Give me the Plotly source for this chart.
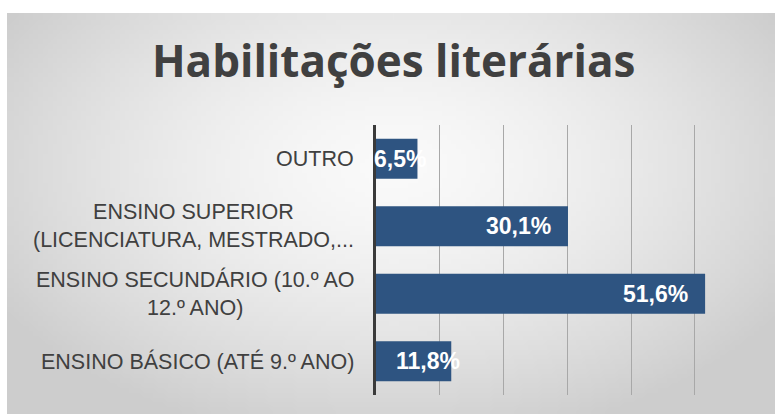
"""Horizontal bar chart: Habilitações literárias (share of respondents)."""

import base64
import struct
import zlib

import numpy as np
import plotly.graph_objects as go

CATEGORIES = [
    "ENSINO BÁSICO (ATÉ 9.º ANO)",
    "ENSINO SECUNDÁRIO (10.º AO 12.º ANO)",
    "ENSINO SUPERIOR (LICENCIATURA, MESTRADO, DOUTORAMENTO)",
    "OUTRO",
]
TICK_LABELS = [
    "ENSINO BÁSICO (ATÉ 9.º ANO)",
    "ENSINO SECUNDÁRIO (10.º AO<br>12.º ANO)",
    "ENSINO SUPERIOR<br>(LICENCIATURA, MESTRADO,...",
    "OUTRO",
]
PERCENT = [11.8, 51.6, 30.1, 6.5]
X_TICKS = [0, 10, 20, 30, 40, 50, 60]

TITLE = "Habilitações literárias"

C_BAR = "#2E5481"
C_TEXT = "#404040"
C_GRID = "#a8a8a8"

W, H = 775, 414
M_L, M_R, M_T, M_B = 376, 16, 125, 19


def _gradient_png(w=160, h=84):
    """Soft radial grey gradient, like the slide background."""
    yy, xx = np.mgrid[0:h, 0:w]
    d = np.sqrt(((xx - w * 0.5) / (w * 0.6)) ** 2 + ((yy - h * 0.38) / (h * 0.7)) ** 2)
    v = 250 - 45 * np.clip(d, 0, 1.0) ** 1.5
    v = np.clip(v, 0, 255).astype(np.uint8)
    rgb = np.repeat(v[:, :, None], 3, axis=2)
    raw = b"".join(b"\x00" + rgb[r].tobytes() for r in range(h))

    def chunk(tag, data):
        c = struct.pack(">I", len(data)) + tag + data
        return c + struct.pack(">I", zlib.crc32(tag + data) & 0xFFFFFFFF)

    png = b"\x89PNG\r\n\x1a\n"
    png += chunk(b"IHDR", struct.pack(">IIBBBBB", w, h, 8, 2, 0, 0, 0))
    png += chunk(b"IDAT", zlib.compress(raw, 9))
    png += chunk(b"IEND", b"")
    return "data:image/png;base64," + base64.b64encode(png).decode()


def _fmt(v):
    return f"{v:.1f}%".replace(".", ",")


fig = go.Figure(
    go.Bar(
        x=PERCENT,
        y=CATEGORIES,
        orientation="h",
        marker=dict(color=C_BAR, line=dict(width=0)),
        hoverinfo="skip",
    )
)

# category labels, centred lines like the original Excel chart
for cat, lab in zip(CATEGORIES, TICK_LABELS):
    fig.add_annotation(
        x=0, xref="paper", y=cat, yref="y",
        text=lab, showarrow=False, xanchor="right", align="center",
        xshift=-20,
        font=dict(family="Liberation Sans, Arial, sans-serif", size=21.5, color=C_TEXT),
    )

# value labels near the inside end of each bar
for cat, v in zip(CATEGORIES, PERCENT):
    fig.add_annotation(
        x=v, y=cat, text=f"<b>{_fmt(v)}</b>", showarrow=False,
        xanchor="right", xshift=-15 if v > 20 else 11,
        font=dict(family="Liberation Sans, Arial, sans-serif", size=23, color="white"),
    )

pw = W - M_L - M_R
ph = H - M_T - M_B
left_px, top_px = 7, 13
fig.add_layout_image(
    source=_gradient_png(),
    xref="paper", yref="paper",
    x=(left_px - M_L) / pw, y=(H - M_B - top_px) / ph,
    sizex=(W - left_px) / pw, sizey=(H - top_px) / ph,
    xanchor="left", yanchor="top", sizing="stretch", layer="below",
)

fig.update_layout(
    width=W, height=H,
    margin=dict(l=M_L, r=M_R, t=M_T, b=M_B),
    paper_bgcolor="white",
    plot_bgcolor="rgba(0,0,0,0)",
    showlegend=False,
    bargap=0.41,
    title=dict(
        text=f"<b>{TITLE}</b>",
        x=0.508, xanchor="center", y=1 - 62 / H, yanchor="middle",
        font=dict(family="Open Sans, sans-serif", size=44, color=C_TEXT),
    ),
)
fig.update_xaxes(
    range=[0, 60.05], tickvals=X_TICKS, showticklabels=False,
    showgrid=True, gridcolor=C_GRID, gridwidth=1.4,
    zeroline=False, showline=False, fixedrange=True,
)
fig.update_yaxes(
    categoryorder="array", categoryarray=CATEGORIES,
    showticklabels=False, showgrid=False, zeroline=False,
    showline=True, linecolor="#3a3a3a", linewidth=3, ticks="",
    fixedrange=True,
)

# drop the browser's default body margin so the figure sits at (0, 0)
fig.write_html(
    "out.html",
    config={"displayModeBar": False},
    post_script="document.body.style.margin='0';",
)
